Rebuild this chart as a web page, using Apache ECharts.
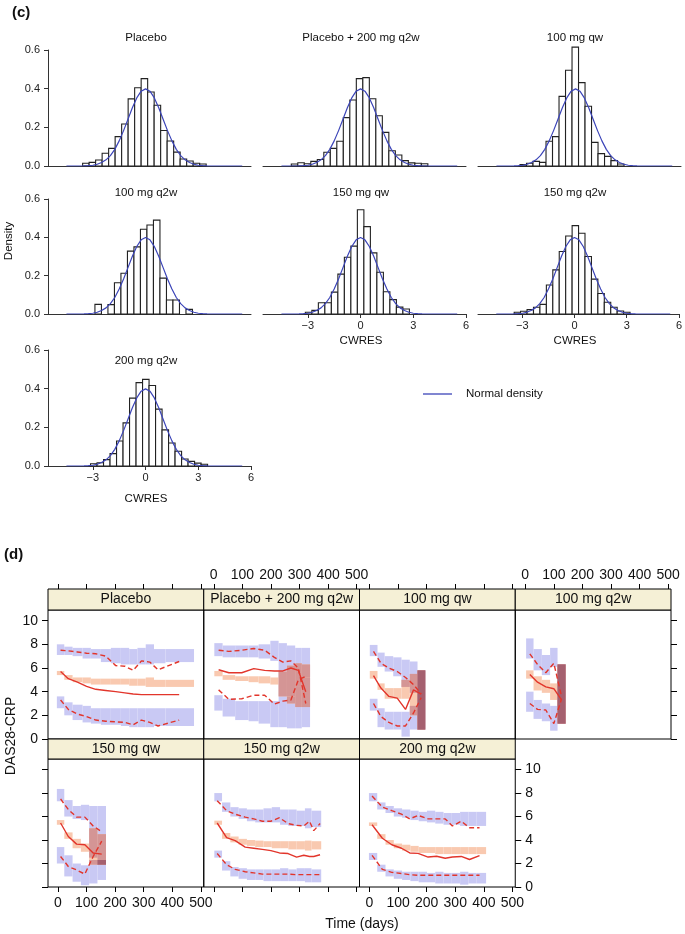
<!DOCTYPE html>
<html>
<head>
<meta charset="utf-8">
<script src="https://cdn.jsdelivr.net/npm/echarts@6/dist/echarts.min.js"></script>
<style>
html,body{margin:0;padding:0;background:#fff}
#main{width:685px;height:934px}
</style>
</head>
<body>
<div id="main"></div>
<script>
// ---------- (c) CWRES histograms ----------
var histNames = ['Placebo', 'Placebo + 200 mg q2w', '100 mg qw', '100 mg q2w', '150 mg qw', '150 mg q2w', '200 mg q2w']
var binWidth = 0.37
var histStart = [-3.58, -3.94, -3.16, -2.88, -3.14, -3.47, -3.13]
var densPlacebo = [0.014, 0.019, 0.031, 0.066, 0.091, 0.152, 0.217, 0.347, 0.405, 0.452, 0.383, 0.314, 0.184, 0.129, 0.072, 0.036, 0.026, 0.014, 0.010]
var densPbo200 = [0.010, 0.017, 0.012, 0.024, 0.034, 0.071, 0.091, 0.128, 0.250, 0.341, 0.452, 0.457, 0.348, 0.260, 0.174, 0.079, 0.057, 0.028, 0.016, 0.014, 0.012]
var dens100qw = [0.007, 0.014, 0.024, 0.019, 0.128, 0.152, 0.360, 0.495, 0.615, 0.431, 0.309, 0.122, 0.064, 0.050, 0.028, 0.010]
var dens100q2w = [0.050, 0, 0.049, 0.163, 0.213, 0.328, 0.350, 0.442, 0.464, 0.490, 0.187, 0.073, 0.073, 0, 0.024]
var dens150qw = [0.009, 0.019, 0.059, 0.059, 0.114, 0.208, 0.296, 0.354, 0.544, 0.456, 0.319, 0.218, 0.116, 0.075, 0.036, 0.026]
var dens150q2w = [0.009, 0.014, 0.023, 0.035, 0.050, 0.151, 0.230, 0.326, 0.407, 0.461, 0.421, 0.300, 0.182, 0.107, 0.061, 0.035, 0.016, 0.009]
var dens200q2w = [0.012, 0.017, 0.033, 0.064, 0.129, 0.223, 0.351, 0.431, 0.448, 0.416, 0.294, 0.187, 0.119, 0.076, 0.036, 0.024, 0.015, 0.009]
var histDens = [densPlacebo, densPbo200, dens100qw, dens100q2w, dens150qw, dens150q2w, dens200q2w]

// normal density
var normX = [-4.5, -3.5, -3.25, -3, -2.75, -2.5, -2.25, -2, -1.75, -1.5, -1.25, -1, -0.75, -0.5, -0.25, 0, 0.25, 0.5, 0.75, 1, 1.25, 1.5, 1.75, 2, 2.25, 2.5, 2.75, 3, 3.25, 3.5, 5.5]
var normY = [0, 0.001, 0.002, 0.004, 0.009, 0.018, 0.032, 0.054, 0.086, 0.130, 0.183, 0.242, 0.301, 0.352, 0.387, 0.399, 0.387, 0.352, 0.301, 0.242, 0.183, 0.130, 0.086, 0.054, 0.032, 0.018, 0.009, 0.004, 0.002, 0.001, 0]
var cwresTicks = [-3, 0, 3, 6]
var densityTicks = [0, 0.2, 0.4, 0.6]

// ---------- (d) VPC of DAS28-CRP ----------
var vpcNames = ['Placebo', 'Placebo + 200 mg q2w', '100 mg qw', '100 mg q2w', '150 mg qw', '150 mg q2w', '200 mg q2w']
var timeTicks = [0, 100, 200, 300, 400, 500]
var dasTicks = [0, 2, 4, 6, 8, 10]

var pboEdges = [-4, 22, 51, 86, 115, 150, 185, 220, 249, 278, 307, 336, 376, 476]
var pboT = [9, 36, 68, 100, 132, 167, 202, 234, 263, 292, 321, 350, 424]
var pboObs95 = [7.5, 7.45, 7.35, 7.25, 7.2, 7.0, 6.2, 6.15, 5.8, 6.6, 6.5, 5.85, 6.55]
var pboObs50 = [5.7, 5.1, 4.8, 4.45, 4.2, 4.1, 4.0, 3.9, 3.8, 3.75, 3.75, 3.75, 3.75]
var pboObs05 = [3.3, 2.5, 2.1, 1.9, 1.6, 1.5, 1.45, 1.4, 1.2, 1.6, 1.4, 1.1, 1.6]
var pboPi95 = [[7.1, 8.0], [7.1, 7.8], [7.0, 7.7], [6.8, 7.7], [6.8, 7.6], [6.5, 7.6], [6.4, 7.7], [6.3, 7.7], [6.3, 7.6], [6.3, 7.7], [6.3, 8.0], [6.4, 7.6], [6.5, 7.6]]
var pboPi50 = [[5.4, 5.75], [5.0, 5.4], [4.8, 5.2], [4.7, 5.2], [4.6, 5.1], [4.6, 5.1], [4.6, 5.1], [4.6, 5.1], [4.5, 5.1], [4.5, 5.1], [4.4, 5.2], [4.4, 5.0], [4.4, 5.0]]
var pboPi05 = [[2.6, 3.6], [2.0, 3.1], [1.6, 2.9], [1.4, 2.8], [1.3, 2.6], [1.2, 2.6], [1.2, 2.6], [1.1, 2.6], [1.0, 2.6], [1.0, 2.6], [1.0, 2.6], [1.1, 2.6], [1.1, 2.6]]

var p200Edges = [2, 31, 75, 122, 157, 198, 227, 256, 285, 308, 337]
var p200T = [17, 53, 98, 140, 178, 212, 242, 270, 296, 322]
var p200Obs95 = [7.5, 7.4, 7.5, 7.65, 7.5, 6.9, 6.5, 6.6, 6.0, 3.0]
var p200Obs50 = [5.85, 5.6, 5.6, 5.95, 5.8, 5.75, 5.75, 6.0, 5.8, 4.0]
var p200Obs05 = [4.15, 3.35, 3.4, 3.7, 3.7, 2.95, 3.2, 3.3, 5.0, 5.3]
var p200Pi95 = [[7.0, 8.1], [6.9, 7.9], [6.9, 7.9], [6.9, 7.9], [6.8, 8.0], [6.6, 8.3], [3.3, 8.1], [3.6, 7.9], [4.4, 7.7], [5.2, 7.7]]
var p200Pi50 = [[5.3, 5.75], [5.0, 5.4], [4.9, 5.3], [4.8, 5.3], [4.7, 5.3], [4.6, 5.2], [3.6, 5.7], [3.0, 6.2], [2.7, 6.4], [2.7, 6.3]]
var p200Pi05 = [[2.4, 3.7], [1.9, 3.4], [1.6, 3.2], [1.5, 3.2], [1.3, 3.2], [1.0, 3.2], [1.0, 3.3], [0.9, 3.6], [0.9, 4.4], [1.0, 5.2]]

var d100qwEdges = [1, 28, 53, 83, 112, 141, 168, 195]
var d100qwT = [14, 40, 68, 97, 126, 154, 181]
var d100qwObs95 = [7.4, 6.4, 6.0, 5.7, 5.2, 4.6, 3.8]
var d100qwObs50 = [5.35, 4.3, 3.6, 3.45, 2.5, 4.15, 3.8]
var d100qwObs05 = [3.0, 1.9, 1.4, 1.1, 1.1, 2.2, 3.5]
var d100qwPi95 = [[7.0, 7.95], [6.1, 7.3], [5.7, 7.0], [5.3, 6.9], [4.4, 6.7], [3.9, 6.55], [0.8, 5.8]]
var d100qwPi50 = [[5.1, 5.75], [4.15, 4.7], [3.4, 4.3], [3.4, 4.3], [3.4, 5.0], [2.0, 5.5], [0.8, 5.8]]
var d100qwPi05 = [[2.4, 3.4], [1.0, 2.6], [0.8, 2.3], [0.8, 2.3], [0.2, 2.3], [0.8, 2.8], [0.8, 5.8]]

var d100q2wEdges = [3, 29, 58, 87, 113, 141]
var d100q2wT = [16, 43, 72, 100, 127]
var d100q2wObs95 = [7.2, 6.3, 5.6, 6.4, 3.6]
var d100q2wObs50 = [5.45, 4.8, 4.4, 4.25, 3.3]
var d100q2wObs05 = [3.0, 2.5, 2.45, 1.3, 3.4]
var d100q2wPi95 = [[6.8, 8.5], [5.8, 7.6], [5.4, 7.1], [6.1, 7.7], [1.3, 6.3]]
var d100q2wPi50 = [[5.1, 5.8], [4.1, 5.3], [3.9, 5.0], [3.3, 4.7], [1.3, 6.3]]
var d100q2wPi05 = [[2.3, 4.0], [1.7, 3.3], [1.5, 3.0], [0.7, 2.8], [1.3, 6.3]]

var d150qwEdges = [-4, 22, 51, 80, 109, 138, 168]
var d150qwT = [9, 36, 65, 94, 123, 153]
var d150qwObs95 = [7.5, 6.6, 5.95, 5.95, 5.2, 4.7]
var d150qwObs50 = [5.45, 4.3, 3.65, 3.6, 2.9, 2.8]
var d150qwObs05 = [2.6, 1.75, 1.45, 1.1, 2.6, 3.9]
var d150qwPi95 = [[7.3, 8.35], [6.0, 7.4], [5.8, 6.9], [5.7, 7.0], [2.5, 6.9], [1.9, 6.9]]
var d150qwPi50 = [[5.3, 5.7], [4.1, 4.65], [3.3, 4.1], [3.0, 3.7], [1.9, 5.0], [1.9, 4.5]]
var d150qwPi05 = [[2.0, 3.4], [0.9, 2.7], [0.45, 2.0], [0.15, 1.85], [0.3, 2.3], [0.6, 2.3]]

var d150q2wEdges = [2, 29, 58, 87, 116, 145, 174, 203, 232, 261, 290, 319, 342, 376]
var d150q2wT = [12, 45, 75, 110, 140, 170, 200, 230, 260, 290, 315, 335, 350, 372]
var d150q2wObs95 = [7.35, 6.5, 6.2, 5.95, 5.8, 5.6, 5.6, 5.9, 5.4, 5.25, 5.2, 5.6, 4.8, 5.4]
var d150q2wObs50 = [5.45, 4.2, 3.95, 3.4, 3.3, 3.2, 3.1, 2.9, 2.85, 2.55, 2.7, 2.6, 2.6, 2.75]
var d150q2wObs05 = [2.85, 1.9, 1.5, 1.3, 1.2, 1.1, 1.1, 1.1, 1.1, 1.05, 1.05, 1.05, 1.05, 1.05]
var d150q2wPi95 = [[7.3, 8.0], [6.4, 7.2], [6.0, 6.8], [5.8, 6.7], [5.6, 6.6], [5.5, 6.6], [5.5, 6.7], [5.5, 6.8], [5.3, 6.6], [5.2, 6.6], [5.2, 6.5], [5.0, 6.7], [5.1, 6.5]]
var d150q2wPi50 = [[5.3, 5.65], [4.1, 4.6], [3.8, 4.3], [3.6, 4.1], [3.5, 4.0], [3.4, 3.95], [3.4, 3.9], [3.3, 3.9], [3.3, 3.9], [3.2, 3.9], [3.2, 3.9], [3.1, 3.95], [3.2, 3.9]]
var d150q2wPi05 = [[2.5, 3.1], [1.4, 2.2], [0.9, 1.7], [0.7, 1.6], [0.6, 1.5], [0.6, 1.5], [0.5, 1.5], [0.5, 1.5], [0.5, 1.6], [0.5, 1.5], [0.5, 1.6], [0.4, 1.6], [0.4, 1.5]]

var d200q2wEdges = [-2, 27, 56, 85, 114, 143, 172, 201, 230, 259, 288, 317, 346, 375, 408]
var d200q2wT = [9, 45, 78, 112, 141, 170, 205, 235, 265, 290, 321, 350, 385]
var d200q2wObs95 = [7.75, 6.8, 6.5, 6.2, 5.8, 6.1, 5.8, 5.8, 5.8, 5.2, 5.6, 5.05, 5.05]
var d200q2wObs50 = [5.3, 4.15, 3.6, 3.3, 2.9, 2.86, 2.55, 2.62, 2.45, 2.55, 2.6, 2.34, 2.68]
var d200q2wObs05 = [2.7, 1.5, 1.25, 1.15, 1.05, 1.0, 1.0, 1.0, 1.0, 1.0, 1.0, 1.0, 1.0]
var d200q2wPi95 = [[7.3, 8.0], [6.6, 7.2], [6.3, 6.9], [6.0, 6.7], [5.9, 6.6], [5.7, 6.5], [5.6, 6.4], [5.5, 6.5], [5.4, 6.4], [5.3, 6.3], [5.3, 6.3], [5.2, 6.4], [5.2, 6.4], [5.2, 6.4]]
var d200q2wPi50 = [[5.2, 5.5], [4.1, 4.5], [3.6, 4.0], [3.3, 3.7], [3.1, 3.6], [3.0, 3.5], [2.9, 3.4], [2.9, 3.4], [2.8, 3.4], [2.8, 3.4], [2.8, 3.4], [2.8, 3.4], [2.8, 3.4], [2.8, 3.4]]
var d200q2wPi05 = [[2.3, 2.9], [1.3, 1.9], [0.9, 1.5], [0.7, 1.4], [0.6, 1.3], [0.5, 1.3], [0.4, 1.3], [0.4, 1.2], [0.3, 1.3], [0.3, 1.2], [0.3, 1.2], [0.2, 1.3], [0.3, 1.2], [0.3, 1.2]]

var vpcEdges = [pboEdges, p200Edges, d100qwEdges, d100q2wEdges, d150qwEdges, d150q2wEdges, d200q2wEdges]
var vpcT = [pboT, p200T, d100qwT, d100q2wT, d150qwT, d150q2wT, d200q2wT]
var vpcObs95 = [pboObs95, p200Obs95, d100qwObs95, d100q2wObs95, d150qwObs95, d150q2wObs95, d200q2wObs95]
var vpcObs50 = [pboObs50, p200Obs50, d100qwObs50, d100q2wObs50, d150qwObs50, d150q2wObs50, d200q2wObs50]
var vpcObs05 = [pboObs05, p200Obs05, d100qwObs05, d100q2wObs05, d150qwObs05, d150q2wObs05, d200q2wObs05]
var vpcPi95 = [pboPi95, p200Pi95, d100qwPi95, d100q2wPi95, d150qwPi95, d150q2wPi95, d200q2wPi95]
var vpcPi50 = [pboPi50, p200Pi50, d100qwPi50, d100q2wPi50, d150qwPi50, d150q2wPi50, d200q2wPi50]
var vpcPi05 = [pboPi05, p200Pi05, d100qwPi05, d100q2wPi05, d150qwPi05, d150q2wPi05, d200q2wPi05]

var FONT = '"Liberation Sans", Arial, Helvetica, sans-serif'
var RED = '#e2352b'
var COL_BLUE = '#c9c9f4'
var COL_BLUE2 = '#b3b3ec'
var COL_ORANGE = '#f9c9b0'
var COL_MIX = '#d49595'
var COL_TRIPLE = '#a5606f'

var chart = echarts.init(document.getElementById('main'))
var grids = []
var xAxes = []
var yAxes = []
var series = []
var graphics = []

function txt (x, y, s, size, opts) {
  opts = opts || {}
  return {
    type: 'text',
    x: x,
    y: y,
    rotation: opts.rotation || 0,
    z: 100,
    style: {
      text: s,
      x: 0,
      y: 0,
      font: (opts.bold ? 'bold ' : '') + size + 'px ' + FONT,
      fill: '#111',
      textAlign: opts.align || 'center',
      align: opts.align || 'center',
      textVerticalAlign: 'middle',
      verticalAlign: 'middle'
    }
  }
}

function histItem (params, api) {
  var a = api.coord([api.value(0), api.value(2)])
  var b = api.coord([api.value(1), 0])
  return {
    type: 'rect',
    shape: { x: a[0], y: a[1], width: b[0] - a[0], height: b[1] - a[1] },
    style: { fill: '#fff', stroke: '#222', lineWidth: 1.1 }
  }
}

function bandItem (color) {
  return function (params, api) {
    var a = api.coord([api.value(0), api.value(3)])
    var b = api.coord([api.value(1), api.value(2)])
    return {
      type: 'rect',
      shape: { x: a[0], y: a[1], width: b[0] - a[0], height: b[1] - a[1] },
      style: { fill: color }
    }
  }
}

function overlap (a, b) {
  if (!a || !b) return null
  var lo = Math.max(a[0], b[0])
  var hi = Math.min(a[1], b[1])
  return hi > lo ? [lo, hi] : null
}

// ---- (c) layout
var hCols = [48, 263, 478]
var hW = 203
var hRows = [[50, 166], [199, 314], [350, 466]]
var hPos = [[0, 0], [1, 0], [2, 0], [0, 1], [1, 1], [2, 1], [0, 2]]
var hTitleY = [38, 193, 361]
var hTitleX = [146, 361, 575]
var hLabelled = [false, false, false, false, true, true, true]
var hNameY = [0, 341, 499]

histNames.forEach(function (name, i) {
  var c = hPos[i][0]
  var r = hPos[i][1]
  var gi = grids.length
  grids.push({ left: hCols[c], top: hRows[r][0], width: hW, height: hRows[r][1] - hRows[r][0] })
  xAxes.push({
    gridIndex: gi,
    type: 'value',
    min: -5.55,
    max: 6,
    axisLine: { show: true, onZero: false, lineStyle: { color: '#333', width: 1 } },
    axisTick: { show: hLabelled[i], length: 4, customValues: cwresTicks, lineStyle: { color: '#333' } },
    axisLabel: {
      show: hLabelled[i],
      customValues: cwresTicks,
      formatter: function (v) { return v < 0 ? '\u2212' + (-v) : String(v) },
      fontSize: 11,
      fontFamily: FONT,
      color: '#222',
      margin: 6
    },
    splitLine: { show: false }
  })
  yAxes.push({
    gridIndex: gi,
    type: 'value',
    min: 0,
    max: 0.6,
    show: c === 0,
    axisLine: { show: true, onZero: false, lineStyle: { color: '#333', width: 1 } },
    axisTick: { show: true, length: 4, customValues: densityTicks, lineStyle: { color: '#333' } },
    axisLabel: {
      customValues: densityTicks,
      formatter: function (v) { return v.toFixed(1) },
      fontSize: 11,
      fontFamily: FONT,
      color: '#222',
      margin: 8
    },
    splitLine: { show: false }
  })
  var bars = []
  histDens[i].forEach(function (d, k) {
    if (d > 0) bars.push([histStart[i] + k * binWidth, histStart[i] + (k + 1) * binWidth, d])
  })
  series.push({
    type: 'custom',
    xAxisIndex: gi,
    yAxisIndex: gi,
    encode: { x: [0, 1], y: 2 },
    renderItem: histItem,
    data: bars,
    silent: true
  })
  series.push({
    type: 'line',
    xAxisIndex: gi,
    yAxisIndex: gi,
    data: normX.map(function (x, k) { return [x, normY[k]] }),
    showSymbol: false,
    lineStyle: { color: '#3b44b8', width: 1.2 },
    silent: true,
    z: 3
  })
  graphics.push(txt(hTitleX[c], hTitleY[r], name, 11.5))
  if (hLabelled[i]) graphics.push(txt(hTitleX[c], hNameY[r], 'CWRES', 11.5))
})

graphics.push(txt(12, 13, '(c)', 15, { bold: true, align: 'left' }))
graphics.push(txt(9, 241, 'Density', 11.5, { rotation: Math.PI / 2 }))
graphics.push({
  type: 'line',
  shape: { x1: 423, y1: 394, x2: 452, y2: 394 },
  style: { stroke: '#3b44b8', lineWidth: 1.3 }
})
graphics.push(txt(466, 394, 'Normal density', 11.5, { align: 'left' }))

// ---- (d) layout
var vW = 155.75
var vCols = [48, 48 + vW, 48 + 2 * vW, 48 + 3 * vW]
var vRows = [[610, 739], [759, 887]]
var vStrip = [21, 20]
var vPos = [[0, 0], [1, 0], [2, 0], [3, 0], [0, 1], [1, 1], [2, 1]]
var xLabelled = [false, true, false, true, true, false, true]
var ySide = ['left', null, null, 'right', 'left', null, 'right']
var yLabelled = [true, false, false, false, false, false, true]

vpcNames.forEach(function (name, i) {
  var c = vPos[i][0]
  var r = vPos[i][1]
  var gi = grids.length
  var top = vRows[r][0]
  var h = vRows[r][1] - top
  grids.push({ left: vCols[c], top: top, width: vW, height: h, show: true, borderColor: '#000', borderWidth: 1, backgroundColor: 'transparent' })
  xAxes.push({
    gridIndex: gi,
    type: 'value',
    min: -35,
    max: 510,
    position: r === 0 ? 'top' : 'bottom',
    offset: r === 0 ? vStrip[0] : 0,
    axisLine: { show: false, onZero: false },
    axisTick: { show: true, length: 5, customValues: timeTicks, lineStyle: { color: '#000' } },
    axisLabel: {
      show: xLabelled[i],
      customValues: timeTicks,
      fontSize: 14,
      fontFamily: FONT,
      color: '#111',
      margin: r === 0 ? 7 : 9
    },
    splitLine: { show: false }
  })
  yAxes.push({
    gridIndex: gi,
    type: 'value',
    min: 0,
    max: 10.9,
    show: ySide[i] !== null,
    position: ySide[i] || 'left',
    axisLine: { show: false, onZero: false },
    axisTick: { show: true, length: 6, customValues: dasTicks, lineStyle: { color: '#000' } },
    axisLabel: {
      show: yLabelled[i],
      customValues: dasTicks,
      fontSize: 14,
      fontFamily: FONT,
      color: '#111',
      margin: 10
    },
    splitLine: { show: false }
  })

  // prediction-interval boxes, overlaps darker
  var edges = vpcEdges[i]
  var layers = { blue: [], blue2: [], orange: [], mix: [], triple: [] }
  vpcPi50[i].forEach(function (o, k) {
    var u = vpcPi95[i][k]
    var l = vpcPi05[i][k]
    var t0 = edges[k]
    var t1 = edges[k + 1]
    function add (key, iv) { if (iv) layers[key].push([t0, t1, iv[0], iv[1]]) }
    add('blue', u)
    add('blue', l)
    add('blue2', overlap(u, l))
    add('orange', o)
    add('mix', overlap(o, u))
    add('mix', overlap(o, l))
    add('triple', overlap(overlap(o, u), l))
  })
  ;[['blue', COL_BLUE], ['blue2', COL_BLUE2], ['orange', COL_ORANGE], ['mix', COL_MIX], ['triple', COL_TRIPLE]].forEach(function (b) {
    series.push({
      type: 'custom',
      xAxisIndex: gi,
      yAxisIndex: gi,
      encode: { x: [0, 1], y: [2, 3] },
      renderItem: bandItem(b[1]),
      data: layers[b[0]],
      silent: true
    })
  })

  var t = vpcT[i]
  ;[[vpcObs95[i], 'dashed'], [vpcObs50[i], 'solid'], [vpcObs05[i], 'dashed']].forEach(function (o) {
    series.push({
      type: 'line',
      xAxisIndex: gi,
      yAxisIndex: gi,
      data: o[0].map(function (v, k) { return [t[k], v] }),
      showSymbol: false,
      silent: true,
      z: 4,
      lineStyle: { color: RED, width: 1.4, type: o[1] === 'dashed' ? [5, 3] : 'solid' }
    })
  })

  // strip with panel name
  var sh = vStrip[r]
  graphics.push({
    type: 'rect',
    shape: { x: vCols[c], y: top - sh, width: vW, height: sh },
    style: { fill: '#f5f0d6', stroke: '#000', lineWidth: 1 },
    z: 50
  })
  graphics.push(txt(vCols[c] + vW / 2, top - sh / 2, name, 14))
})

graphics.push(txt(4, 555, '(d)', 15, { bold: true, align: 'left' }))
graphics.push(txt(11, 736, 'DAS28-CRP', 14, { rotation: Math.PI / 2 }))
graphics.push(txt(362, 924, 'Time (days)', 14))

chart.setOption({
  animation: false,
  backgroundColor: '#fff',
  grid: grids,
  xAxis: xAxes,
  yAxis: yAxes,
  series: series,
  graphic: { elements: graphics }
})
</script>
</body>
</html>
